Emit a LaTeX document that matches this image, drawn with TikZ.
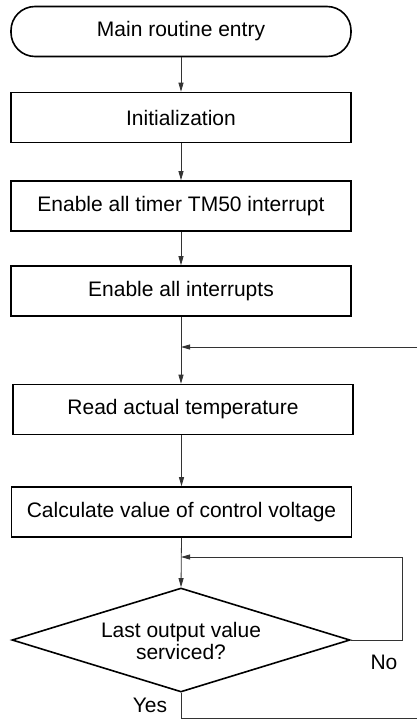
\documentclass[tikz,border=0pt]{standalone}
\usepackage{fontspec}
\setmainfont{Liberation Sans}
\usetikzlibrary{shapes.geometric,arrows.meta}
\begin{document}
\begin{tikzpicture}[x=1pt,y=-1pt,
  box/.style={draw,line width=1.6pt,minimum width=340pt,minimum height=50pt,inner sep=0pt,font=\fontsize{21}{23}\selectfont},
  term/.style={box,rounded corners=24pt},
  flow/.style={line width=0.8pt,draw=black!80,-{Triangle[length=9pt,width=5pt]}},
  line/.style={line width=0.8pt,draw=black!80},
  lbl/.style={font=\fontsize{21}{23}\selectfont}]
\useasboundingbox (0,0) rectangle (417,719);
\node[term] (t) at (181,31.5) {Main routine entry};
\node[box] (init) at (181,117.5) {Initialization};
\node[box] (tm) at (181,206) {Enable all timer TM50 interrupt};
\node[box] (ei) at (181,291) {Enable all interrupts};
\node[box] (rt) at (183,409.5) {Read actual temperature};
\node[box] (cv) at (181.5,512) {Calculate value of control voltage};
\node[draw,line width=1.6pt,diamond,minimum width=338pt,minimum height=104pt,inner sep=0pt,aspect=3.25,
      font=\fontsize{21}{22}\selectfont,align=center] (d) at (181,640) {\raisebox{0pt}[17pt]{}Last output value\\serviced?};
\coordinate (j1) at (181,347);
\coordinate (e1) at (417,347);
\coordinate (j2) at (181,557);
\coordinate (c2) at (402,557);
\coordinate (c3) at (402,640);
\coordinate (y1) at (181,718);
\coordinate (e2) at (417,718);
\draw[flow] (t.south) -- (init.north);
\draw[flow] (init.south) -- (tm.north);
\draw[flow] (tm.south) -- (ei.north);
\draw[flow] (ei.south) -- (rt.north -| ei.south);
\draw[flow] (e1) -- (j1);
\draw[flow] (rt.south -| cv.north) -- (cv.north);
\draw[flow] (cv.south) -- (d.north);
\draw[flow] (d.east) -- (c3) -- (c2) -- (j2);
\draw[line] (d.south) -- (y1) -- (e2);
\node[lbl] (no) at (384,662) {No};
\node[lbl] (yes) at (150,705) {Yes};
\end{tikzpicture}
\end{document}
